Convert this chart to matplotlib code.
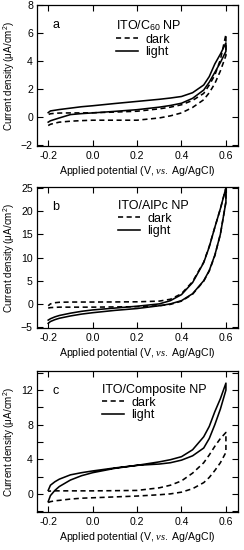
import numpy as np
import matplotlib
matplotlib.use("Agg")
import matplotlib.pyplot as plt

plt.rcParams['font.family'] = ['Liberation Sans', 'DejaVu Sans']
plt.rcParams['mathtext.fontset'] = 'custom'
plt.rcParams['mathtext.rm'] = 'Liberation Sans'
plt.rcParams['mathtext.it'] = 'Liberation Serif:italic'

# potential grid (V vs Ag/AgCl), shared by every branch
v = [-0.2, -0.19, -0.17, -0.15, -0.1, -0.05, 0.0, 0.1, 0.2, 0.3, 0.35, 0.4,
     0.45, 0.5, 0.525, 0.55, 0.575, 0.6]

# panel a: ITO/C60 NP
a_light_up = [0.33, 0.45, 0.5, 0.55, 0.65, 0.75, 0.82, 0.98, 1.13, 1.28, 1.37, 1.48,
              1.75, 2.3, 2.9, 3.8, 4.5, 5.3]
a_light_lo = [-0.35, -0.25, -0.15, -0.05, 0.19, 0.26, 0.31, 0.42, 0.54, 0.72, 0.84, 1.0,
              1.35, 1.94, 2.5, 3.2, 3.9, 4.7]
a_dark_up = [0.19, 0.25, 0.28, 0.3, 0.31, 0.31, 0.32, 0.37, 0.43, 0.6, 0.72, 0.89,
             1.2, 1.7, 2.3, 3.0, 4.1, 5.9]
a_dark_lo = [-0.59, -0.5, -0.42, -0.35, -0.28, -0.24, -0.21, -0.21, -0.21, -0.05, 0.1, 0.31,
             0.7, 1.25, 1.75, 2.4, 3.3, 4.4]

# panel b: ITO/AlPc NP
b_light_up = [-3.5, -3.2, -2.8, -2.5, -2.0, -1.6, -1.3, -0.9, -0.5, 0.0, 0.7, 2.0,
              4.6, 8.9, 12.3, 16.5, 20.5, 25.0]
b_light_lo = [-4.2, -3.8, -3.4, -3.1, -2.6, -2.2, -1.9, -1.4, -1.0, -0.4, 0.0, 0.7,
              2.2, 5.0, 7.2, 10.5, 15.0, 22.0]
b_dark_up = [-0.4, 0.0, 0.25, 0.35, 0.4, 0.4, 0.4, 0.42, 0.45, 0.6, 1.0, 2.2,
             4.8, 9.0, 12.4, 16.5, 20.5, 25.0]
b_dark_lo = [-0.9, -0.8, -0.75, -0.7, -0.7, -0.7, -0.7, -0.65, -0.6, -0.4, -0.1, 0.6,
             2.1, 4.9, 7.1, 10.4, 15.0, 22.0]

# panel c: ITO/Composite NP
c_light_up = [0.4, 1.0, 1.4, 1.7, 2.2, 2.45, 2.65, 3.0, 3.3, 3.7, 3.95, 4.3,
              5.1, 6.6, 7.8, 9.5, 11.0, 12.8]
c_light_lo = [-0.9, -0.2, 0.4, 0.85, 1.6, 2.1, 2.45, 2.95, 3.3, 3.45, 3.6, 3.9,
              4.4, 5.3, 6.4, 8.0, 9.8, 12.0]
c_dark_up = [0.3, 0.33, 0.35, 0.35, 0.35, 0.35, 0.35, 0.37, 0.4, 0.7, 1.0, 1.5,
             2.4, 3.6, 4.5, 5.5, 6.4, 7.1]
c_dark_lo = [-1.0, -0.9, -0.8, -0.75, -0.6, -0.5, -0.45, -0.35, -0.25, -0.1, 0.0, 0.2,
             0.6, 1.3, 1.9, 2.7, 3.6, 4.8]

panels = [
    ("a", "ITO/C$_{60}$ NP", a_light_up, a_light_lo, a_dark_up, a_dark_lo,
     (-2.05, 8), np.arange(-2, 9, 2), None, 0.40),
    ("b", "ITO/AlPc NP", b_light_up, b_light_lo, b_dark_up, b_dark_lo,
     (-5.2, 25.2), np.arange(-5, 26, 5), None, 0.41),
    ("c", "ITO/Composite NP", c_light_up, c_light_lo, c_dark_up, c_dark_lo,
     (-2.1, 14.2), np.arange(0, 13, 4), np.arange(-2, 15, 2), 0.33),
]

fig = plt.figure(figsize=(2.44, 5.5), dpi=100)
bottoms = [0.7345, 0.4036, 0.069]

for (lab, title, lu, ll, du, dl, ylim, yt, ymin, lx), b in zip(panels, bottoms):
    ax = fig.add_axes([0.152, b, 0.824, 0.2564])
    # closed loops: forward sweep along lower branch, back along upper branch
    xd = list(v) + list(v[::-1])
    ax.plot(xd, dl + du[::-1], color='black', lw=1.15, ls=(0, (3.2, 2.2)), label='dark')
    ax.plot(xd, ll + lu[::-1], color='black', lw=1.15, label='light')
    ax.set_xlim(-0.25, 0.655)
    ax.set_ylim(*ylim)
    ax.set_xticks([-0.2, 0.0, 0.2, 0.4, 0.6])
    ax.set_xticklabels(["-0.2", "0.0", "0.2", "0.4", "0.6"])
    ax.set_yticks(yt)
    if ymin is not None:
        ax.set_yticks(ymin, minor=True)
    ax.tick_params(which='both', direction='in', top=True, right=True,
                   labelsize=7.6, width=0.8, length=4)
    ax.tick_params(axis='x', which='both', pad=3.5)
    ax.tick_params(axis='y', which='both', pad=3)
    for s in ax.spines.values():
        s.set_linewidth(0.9)
    ax.set_xlabel(r"Applied potential (V, $\mathit{vs.}$ Ag/AgCl)", fontsize=7.6, labelpad=2.5)
    ax.set_ylabel("Current density (μA/cm$^2$)", fontsize=7.1, labelpad=3)
    ax.text(0.075, 0.86, lab, transform=ax.transAxes, fontsize=9, va='center')
    ax.legend(title=title, loc='upper left', bbox_to_anchor=(lx - 0.02, 0.925),
              frameon=False, fontsize=9, title_fontsize=9, alignment='left',
              handlelength=1.8, handletextpad=0.55, labelspacing=0.05,
              borderaxespad=0, borderpad=0.2)

fig.savefig("out.png", dpi=100)
